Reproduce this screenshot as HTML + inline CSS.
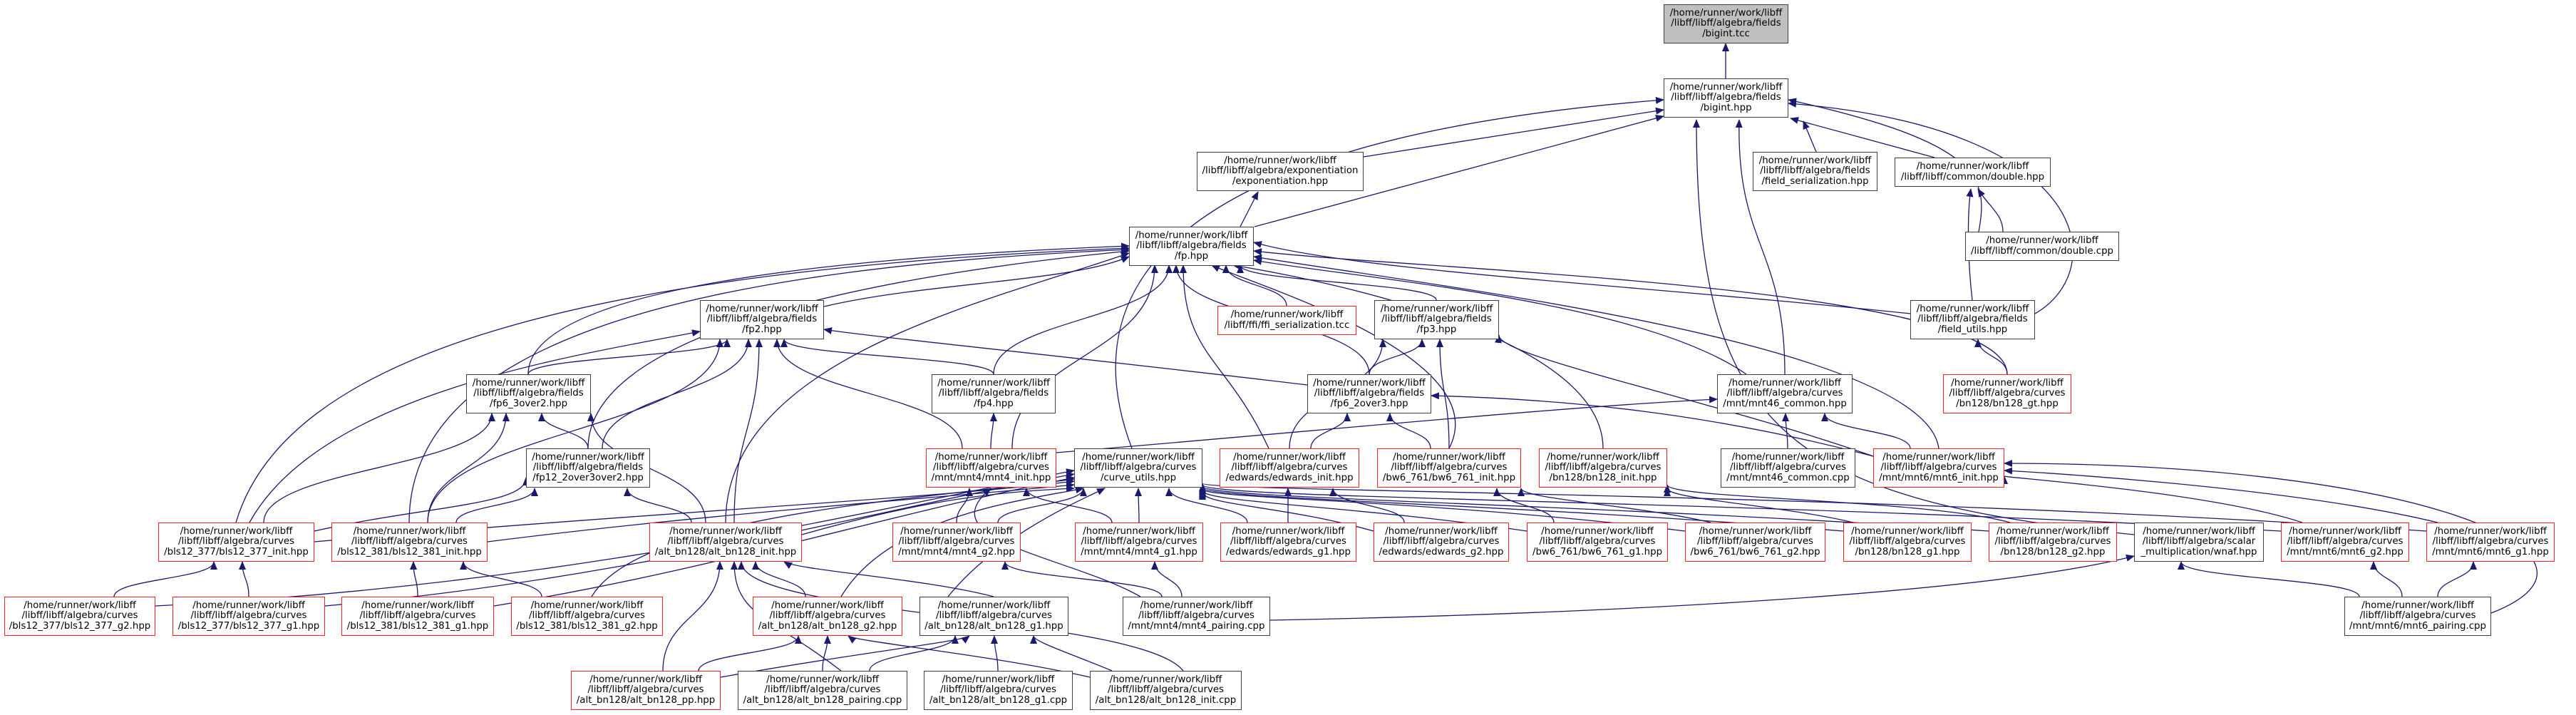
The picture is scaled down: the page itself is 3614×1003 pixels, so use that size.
<!DOCTYPE html>
<html><head><meta charset="utf-8"><style>
html,body{margin:0;padding:0;background:#fff;}
body{width:3614px;height:1003px;position:relative;overflow:hidden;font-family:"DejaVu Sans","Liberation Sans",sans-serif;}
svg{position:absolute;left:0;top:0;}
.n{position:absolute;box-sizing:border-box;border:1.3px solid #404040;background:#fff;display:flex;flex-direction:column;justify-content:center;align-items:center;font-size:13.33px;line-height:14.5px;color:#000;white-space:nowrap;text-align:center;}
.n span{display:block;}
.r{border-color:#ff2020;}
.g{background:#bfbfbf;}
.h3{height:55px;}
.h2{height:41px;}
</style></head><body>
<svg width="3614" height="1003" viewBox="0 0 3614 1003">
<defs><marker id="a" markerUnits="userSpaceOnUse" markerWidth="12" markerHeight="10" refX="11" refY="5" orient="auto" viewBox="0 0 12 10"><path d="M0,0 L12,5 L0,10 z" fill="#191970"/></marker></defs>
<g fill="none" stroke="#191970" stroke-width="1.3" marker-end="url(#a)">
<path d="M2421 110 L2421 61"/>
<path d="M1913 220 L2334 154"/>
<path d="M1760 318 L2334 163"/>
<path d="M1740 318 L1765 269"/>
<path d="M2548 213 L2530 170"/>
<path d="M2714 221 L2512 166"/>
<path d="M2776 325 C2790 250 2780 200 2509 140"/>
<path d="M2810 325 C2810 300 2790 290 2775 265"/>
<path d="M2855 440 C2960 380 2940 180 2509 145"/>
<path d="M2767 421 C2760 360 2760 300 2765 265"/>
<path d="M2680 440 C2300 400 1900 380 1759 340"/>
<path d="M1588 629 C1520 450 1560 200 2334 140"/>
<path d="M2504 525 C2504 345 2436 345 2440 168"/>
<path d="M2994 750 C2500 700 2380 600 2380 168"/>
<path d="M1156 430 C1300 396 1500 396 1584 360"/>
<path d="M1805 429 C1805 400 1720 400 1720 372"/>
<path d="M2015 421 C2015 396 1740 396 1740 372"/>
<path d="M1394 525 C1394 448 1640 448 1640 372"/>
<path d="M1394 525 C1394 500 1100 500 1100 476"/>
<path d="M741 525 C741 400 1200 360 1584 345"/>
<path d="M741 525 C741 500 1020 500 1020 476"/>
<path d="M1921 525 C1921 448 1650 448 1650 372"/>
<path d="M1834 540 C1500 500 1200 470 1156 462"/>
<path d="M1921 525 C1921 500 1995 500 1995 476"/>
<path d="M825 629 C825 450 1300 380 1584 352"/>
<path d="M845 629 C845 552 1050 552 1050 476"/>
<path d="M825 629 C825 604 760 604 760 580"/>
<path d="M2816 525 C2816 400 2000 380 1759 352"/>
<path d="M2816 525 C2816 500 2775 500 2775 476"/>
<path d="M2450 525 C2300 420 1900 390 1759 365"/>
<path d="M1420 629 C1420 500 1620 500 1620 372"/>
<path d="M1350 629 C1350 552 1090 552 1090 476"/>
<path d="M1390 629 C1390 604 1394 604 1394 580"/>
<path d="M1482 635 C1900 600 2200 570 2409 560"/>
<path d="M1780 629 C1720 500 1660 500 1660 372"/>
<path d="M1809 629 C1809 552 1940 552 1940 476"/>
<path d="M1839 629 C1839 604 1890 604 1890 580"/>
<path d="M2033 629 C2100 500 1760 400 1700 372"/>
<path d="M2033 629 C2033 552 2020 552 2020 476"/>
<path d="M2007 629 C2007 604 1950 604 1950 580"/>
<path d="M2249 629 C2249 480 1900 400 1730 372"/>
<path d="M2720 629 C2700 480 2000 400 1759 360"/>
<path d="M2628 640 C2400 560 2100 500 2103 470"/>
<path d="M2628 640 C2400 580 2200 560 2008 555"/>
<path d="M2680 629 C2680 604 2560 604 2560 580"/>
<path d="M2508 629 C2508 604 2505 604 2505 580"/>
<path d="M331 733 C400 500 800 380 1584 348"/>
<path d="M350 733 C450 552 800 500 982 465"/>
<path d="M370 733 C370 656 690 656 690 580"/>
<path d="M441 745 C600 709 738 709 738 670"/>
<path d="M574 733 C574 500 900 380 1584 350"/>
<path d="M600 733 C600 604 1010 604 1010 476"/>
<path d="M600 733 C600 656 710 656 710 580"/>
<path d="M640 733 C640 709 750 709 750 685"/>
<path d="M1018 733 C1018 500 1400 420 1584 355"/>
<path d="M1030 733 C1030 604 1065 604 1065 476"/>
<path d="M990 733 C990 656 829 656 829 580"/>
<path d="M970 733 C970 709 880 709 880 685"/>
<path d="M1342 733 C1342 709 1360 709 1360 685"/>
<path d="M1400 733 C1400 709 1520 709 1520 685"/>
<path d="M1560 733 C1560 709 1440 709 1440 685"/>
<path d="M1598 733 C1598 709 1597 709 1597 685"/>
<path d="M1807 733 C1807 709 1807 709 1807 685"/>
<path d="M1750 733 C1750 709 1640 709 1640 685"/>
<path d="M1970 733 C1970 709 1870 709 1870 685"/>
<path d="M1927 745 C1800 709 1687 709 1687 690"/>
<path d="M2180 733 C2180 709 2100 709 2100 685"/>
<path d="M2142 745 C1900 709 1687 705 1687 688"/>
<path d="M2400 733 C2300 709 2134 700 2134 685"/>
<path d="M2364 745 C2000 700 1687 700 1687 686"/>
<path d="M2600 733 C2500 709 2339 700 2339 685"/>
<path d="M2586 745 C2100 705 1687 700 1687 684"/>
<path d="M2820 733 C2700 700 2339 700 2339 680"/>
<path d="M2790 745 C2200 705 1687 700 1687 682"/>
<path d="M3230 733 C3100 690 2812 670 2812 668"/>
<path d="M3200 745 C2400 700 1687 700 1687 680"/>
<path d="M3420 733 C3200 680 2812 660 2812 660"/>
<path d="M3404 745 C2600 690 1687 690 1687 678"/>
<path d="M441 760 C900 720 1300 700 1507 675"/>
<path d="M684 760 C1000 720 1300 700 1507 680"/>
<path d="M1125 750 C1300 700 1400 690 1507 685"/>
<path d="M160 837 C160 812 300 812 300 788"/>
<path d="M218 850 C800 820 1200 720 1507 660"/>
<path d="M349 837 C349 812 340 812 340 788"/>
<path d="M456 850 C900 810 1200 720 1507 665"/>
<path d="M586 837 C586 812 580 812 580 788"/>
<path d="M693 850 C1000 800 1250 720 1507 670"/>
<path d="M760 837 C760 812 650 812 650 788"/>
<path d="M830 837 C900 720 1300 700 1507 672"/>
<path d="M1130 837 C1130 812 1060 812 1060 788"/>
<path d="M1180 837 C1250 720 1450 700 1520 685"/>
<path d="M1394 837 C1300 812 1120 800 1100 788"/>
<path d="M1330 837 C1400 750 1520 700 1550 685"/>
<path d="M1630 837 C1630 812 1410 812 1410 788"/>
<path d="M1658 837 C1658 812 1620 812 1620 788"/>
<path d="M1600 837 C1500 780 1300 760 1390 685"/>
<path d="M1782 870 C2300 860 2800 830 2994 780"/>
<path d="M3310 837 C3310 812 3060 812 3060 788"/>
<path d="M3370 837 C3370 812 3330 812 3330 788"/>
<path d="M3420 837 C3420 812 3470 812 3470 788"/>
<path d="M3495 860 C3700 780 3400 650 2812 650"/>
<path d="M930 941 C930 864 1010 864 1010 788"/>
<path d="M980 941 C980 916 1120 916 1120 892"/>
<path d="M1011 950 C1200 916 1350 900 1360 892"/>
<path d="M1180 941 C1080 864 1030 864 1030 788"/>
<path d="M1154 941 C1154 916 1161 916 1161 892"/>
<path d="M1220 941 C1220 916 1340 916 1340 892"/>
<path d="M1400 941 C1400 916 1395 916 1395 892"/>
<path d="M1660 941 C1600 864 1040 864 1040 788"/>
<path d="M1560 941 C1500 916 1450 900 1450 892"/>
<path d="M1529 950 C1400 920 1200 900 1190 892"/>
</g>
</svg>

<div class="n g h3" style="left:2334px;top:6px;width:175px"><span>/home/runner/work/libff</span><span>/libff/libff/algebra/fields</span><span>/bigint.tcc</span></div>
<div class="n h3" style="left:2334px;top:110px;width:175px"><span>/home/runner/work/libff</span><span>/libff/libff/algebra/fields</span><span>/bigint.hpp</span></div>
<div class="n h3" style="left:1679px;top:213px;width:234px"><span>/home/runner/work/libff</span><span>/libff/libff/algebra/exponentiation</span><span>/exponentiation.hpp</span></div>
<div class="n h3" style="left:2459px;top:213px;width:175px"><span>/home/runner/work/libff</span><span>/libff/libff/algebra/fields</span><span>/field_serialization.hpp</span></div>
<div class="n h2" style="left:2658px;top:221px;width:219px"><span>/home/runner/work/libff</span><span>/libff/libff/common/double.hpp</span></div>
<div class="n h3" style="left:1584px;top:318px;width:175px"><span>/home/runner/work/libff</span><span>/libff/libff/algebra/fields</span><span>/fp.hpp</span></div>
<div class="n h2" style="left:2757px;top:325px;width:216px"><span>/home/runner/work/libff</span><span>/libff/libff/common/double.cpp</span></div>
<div class="n h3" style="left:982px;top:421px;width:174px"><span>/home/runner/work/libff</span><span>/libff/libff/algebra/fields</span><span>/fp2.hpp</span></div>
<div class="n r h2" style="left:1708px;top:429px;width:195px"><span>/home/runner/work/libff</span><span>/libff/ffi/ffi_serialization.tcc</span></div>
<div class="n h3" style="left:1928px;top:421px;width:175px"><span>/home/runner/work/libff</span><span>/libff/libff/algebra/fields</span><span>/fp3.hpp</span></div>
<div class="n h3" style="left:2680px;top:421px;width:175px"><span>/home/runner/work/libff</span><span>/libff/libff/algebra/fields</span><span>/field_utils.hpp</span></div>
<div class="n h3" style="left:654px;top:525px;width:175px"><span>/home/runner/work/libff</span><span>/libff/libff/algebra/fields</span><span>/fp6_3over2.hpp</span></div>
<div class="n h3" style="left:1307px;top:525px;width:174px"><span>/home/runner/work/libff</span><span>/libff/libff/algebra/fields</span><span>/fp4.hpp</span></div>
<div class="n h3" style="left:1834px;top:525px;width:174px"><span>/home/runner/work/libff</span><span>/libff/libff/algebra/fields</span><span>/fp6_2over3.hpp</span></div>
<div class="n h3" style="left:2409px;top:525px;width:190px"><span>/home/runner/work/libff</span><span>/libff/libff/algebra/curves</span><span>/mnt/mnt46_common.hpp</span></div>
<div class="n r h3" style="left:2726px;top:525px;width:180px"><span>/home/runner/work/libff</span><span>/libff/libff/algebra/curves</span><span>/bn128/bn128_gt.hpp</span></div>
<div class="n h3" style="left:738px;top:629px;width:174px"><span>/home/runner/work/libff</span><span>/libff/libff/algebra/fields</span><span>/fp12_2over3over2.hpp</span></div>
<div class="n r h3" style="left:1299px;top:629px;width:183px"><span>/home/runner/work/libff</span><span>/libff/libff/algebra/curves</span><span>/mnt/mnt4/mnt4_init.hpp</span></div>
<div class="n h3" style="left:1507px;top:629px;width:180px"><span>/home/runner/work/libff</span><span>/libff/libff/algebra/curves</span><span>/curve_utils.hpp</span></div>
<div class="n r h3" style="left:1711px;top:629px;width:196px"><span>/home/runner/work/libff</span><span>/libff/libff/algebra/curves</span><span>/edwards/edwards_init.hpp</span></div>
<div class="n r h3" style="left:1932px;top:629px;width:202px"><span>/home/runner/work/libff</span><span>/libff/libff/algebra/curves</span><span>/bw6_761/bw6_761_init.hpp</span></div>
<div class="n r h3" style="left:2159px;top:629px;width:180px"><span>/home/runner/work/libff</span><span>/libff/libff/algebra/curves</span><span>/bn128/bn128_init.hpp</span></div>
<div class="n h3" style="left:2414px;top:629px;width:189px"><span>/home/runner/work/libff</span><span>/libff/libff/algebra/curves</span><span>/mnt/mnt46_common.cpp</span></div>
<div class="n r h3" style="left:2628px;top:629px;width:184px"><span>/home/runner/work/libff</span><span>/libff/libff/algebra/curves</span><span>/mnt/mnt6/mnt6_init.hpp</span></div>

<div class="n r h3" style="left:222px;top:733px;width:219px"><span>/home/runner/work/libff</span><span>/libff/libff/algebra/curves</span><span>/bls12_377/bls12_377_init.hpp</span></div>
<div class="n r h3" style="left:465px;top:733px;width:219px"><span>/home/runner/work/libff</span><span>/libff/libff/algebra/curves</span><span>/bls12_381/bls12_381_init.hpp</span></div>
<div class="n r h3" style="left:911px;top:733px;width:214px"><span>/home/runner/work/libff</span><span>/libff/libff/algebra/curves</span><span>/alt_bn128/alt_bn128_init.hpp</span></div>
<div class="n r h3" style="left:1252px;top:733px;width:180px"><span>/home/runner/work/libff</span><span>/libff/libff/algebra/curves</span><span>/mnt/mnt4/mnt4_g2.hpp</span></div>
<div class="n r h3" style="left:1508px;top:733px;width:180px"><span>/home/runner/work/libff</span><span>/libff/libff/algebra/curves</span><span>/mnt/mnt4/mnt4_g1.hpp</span></div>
<div class="n r h3" style="left:1712px;top:733px;width:191px"><span>/home/runner/work/libff</span><span>/libff/libff/algebra/curves</span><span>/edwards/edwards_g1.hpp</span></div>
<div class="n r h3" style="left:1927px;top:733px;width:190px"><span>/home/runner/work/libff</span><span>/libff/libff/algebra/curves</span><span>/edwards/edwards_g2.hpp</span></div>
<div class="n r h3" style="left:2142px;top:733px;width:198px"><span>/home/runner/work/libff</span><span>/libff/libff/algebra/curves</span><span>/bw6_761/bw6_761_g1.hpp</span></div>
<div class="n r h3" style="left:2364px;top:733px;width:197px"><span>/home/runner/work/libff</span><span>/libff/libff/algebra/curves</span><span>/bw6_761/bw6_761_g2.hpp</span></div>
<div class="n r h3" style="left:2586px;top:733px;width:180px"><span>/home/runner/work/libff</span><span>/libff/libff/algebra/curves</span><span>/bn128/bn128_g1.hpp</span></div>
<div class="n r h3" style="left:2790px;top:733px;width:180px"><span>/home/runner/work/libff</span><span>/libff/libff/algebra/curves</span><span>/bn128/bn128_g2.hpp</span></div>
<div class="n h3" style="left:2994px;top:733px;width:182px"><span>/home/runner/work/libff</span><span>/libff/libff/algebra/scalar</span><span>_multiplication/wnaf.hpp</span></div>
<div class="n r h3" style="left:3200px;top:733px;width:180px"><span>/home/runner/work/libff</span><span>/libff/libff/algebra/curves</span><span>/mnt/mnt6/mnt6_g2.hpp</span></div>
<div class="n r h3" style="left:3404px;top:733px;width:180px"><span>/home/runner/work/libff</span><span>/libff/libff/algebra/curves</span><span>/mnt/mnt6/mnt6_g1.hpp</span></div>

<div class="n r h3" style="left:6px;top:837px;width:212px"><span>/home/runner/work/libff</span><span>/libff/libff/algebra/curves</span><span>/bls12_377/bls12_377_g2.hpp</span></div>
<div class="n r h3" style="left:242px;top:837px;width:214px"><span>/home/runner/work/libff</span><span>/libff/libff/algebra/curves</span><span>/bls12_377/bls12_377_g1.hpp</span></div>
<div class="n r h3" style="left:479px;top:837px;width:214px"><span>/home/runner/work/libff</span><span>/libff/libff/algebra/curves</span><span>/bls12_381/bls12_381_g1.hpp</span></div>
<div class="n r h3" style="left:717px;top:837px;width:213px"><span>/home/runner/work/libff</span><span>/libff/libff/algebra/curves</span><span>/bls12_381/bls12_381_g2.hpp</span></div>
<div class="n r h3" style="left:1056px;top:837px;width:210px"><span>/home/runner/work/libff</span><span>/libff/libff/algebra/curves</span><span>/alt_bn128/alt_bn128_g2.hpp</span></div>
<div class="n h3" style="left:1290px;top:837px;width:209px"><span>/home/runner/work/libff</span><span>/libff/libff/algebra/curves</span><span>/alt_bn128/alt_bn128_g1.hpp</span></div>
<div class="n h3" style="left:1575px;top:837px;width:207px"><span>/home/runner/work/libff</span><span>/libff/libff/algebra/curves</span><span>/mnt/mnt4/mnt4_pairing.cpp</span></div>
<div class="n h3" style="left:3289px;top:837px;width:206px"><span>/home/runner/work/libff</span><span>/libff/libff/algebra/curves</span><span>/mnt/mnt6/mnt6_pairing.cpp</span></div>

<div class="n r h3" style="left:801px;top:941px;width:210px"><span>/home/runner/work/libff</span><span>/libff/libff/algebra/curves</span><span>/alt_bn128/alt_bn128_pp.hpp</span></div>
<div class="n h3" style="left:1035px;top:941px;width:238px"><span>/home/runner/work/libff</span><span>/libff/libff/algebra/curves</span><span>/alt_bn128/alt_bn128_pairing.cpp</span></div>
<div class="n h3" style="left:1296px;top:941px;width:209px"><span>/home/runner/work/libff</span><span>/libff/libff/algebra/curves</span><span>/alt_bn128/alt_bn128_g1.cpp</span></div>
<div class="n h3" style="left:1529px;top:941px;width:213px"><span>/home/runner/work/libff</span><span>/libff/libff/algebra/curves</span><span>/alt_bn128/alt_bn128_init.cpp</span></div>
</body></html>
